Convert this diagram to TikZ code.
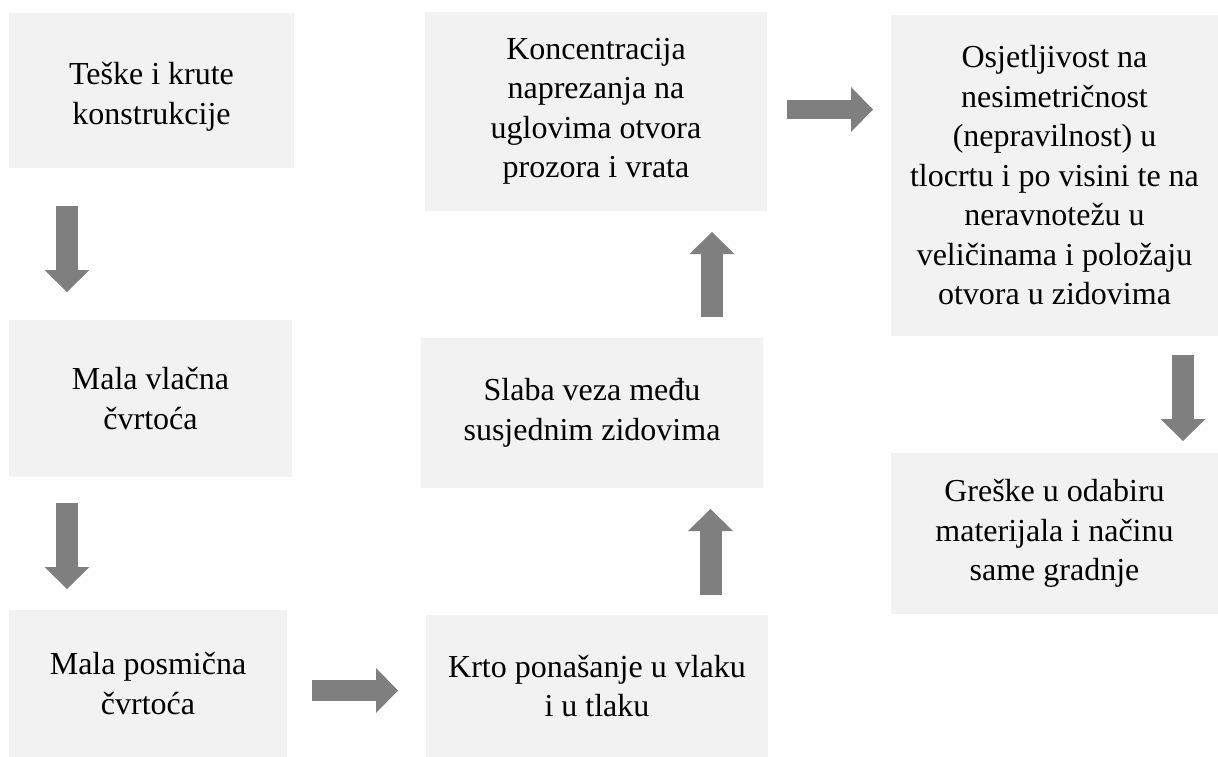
\documentclass[tikz,border=0pt]{standalone}
\usepackage{fontspec}
\setmainfont{Liberation Serif}
\usetikzlibrary{arrows.meta}
\definecolor{boxfill}{HTML}{F2F2F2}
\definecolor{arrowgray}{HTML}{7F7F7F}
\begin{document}
\begin{tikzpicture}[x=1pt,y=-1pt,
  box/.style={fill=boxfill, draw=none, inner sep=0pt, align=center,
    font=\fontsize{32pt}{39.5pt}\selectfont, text=black},
  txt/.style={inner sep=0pt, align=center,
    font=\fontsize{32pt}{39.5pt}\selectfont, text=black},
  blk/.style={draw=arrowgray, line width=22pt, line cap=butt,
    -{Triangle[width=45pt,length=22pt,line width=0pt,fill=arrowgray]}},
]
\useasboundingbox (0,0) rectangle (1218,757);
\node[box, minimum width=285pt, minimum height=155pt] (b1) at (151.5,90.5) {};
\node[txt] (b1t) at (151.5,97) {Teške i krute\\konstrukcije};
\node[box, minimum width=283pt, minimum height=157pt] (b2) at (150.5,398.5) {Mala vlačna\\čvrtoća};
\node[box, minimum width=278pt, minimum height=147pt] (b3) at (148,683.5) {Mala posmična\\čvrtoća};
\node[box, minimum width=342pt, minimum height=142pt] (b4) at (597,686) {Krto ponašanje u vlaku\\i u tlaku};
\node[box, minimum width=342pt, minimum height=150pt] (b5) at (592,413) {Slaba veza među\\susjednim zidovima};
\node[box, minimum width=342pt, minimum height=199pt] (b6) at (596,111.5) {Koncentracija\\naprezanja na\\uglovima otvora\\prozora i vrata};
\node[box, minimum width=327pt, minimum height=321pt] (b7) at (1054.5,175.5) {Osjetljivost na\\nesimetričnost\\(nepravilnost) u\\tlocrtu i po visini te na\\neravnotežu u\\veličinama i položaju\\otvora u zidovima};
\node[box, minimum width=327pt, minimum height=161pt] (b8) at (1054.5,533.5) {Greške u odabiru\\materijala i načinu\\same gradnje};

\coordinate (a1s) at (67,206);   \coordinate (a1e) at (67,292);
\coordinate (a2s) at (67,503);   \coordinate (a2e) at (67,589);
\coordinate (a3s) at (312,690.5); \coordinate (a3e) at (398,690.5);
\coordinate (a4s) at (710.5,595); \coordinate (a4e) at (710.5,509);
\coordinate (a5s) at (712,317);  \coordinate (a5e) at (712,232);
\coordinate (a6s) at (787,109.5); \coordinate (a6e) at (873,109.5);
\coordinate (a7s) at (1183,355); \coordinate (a7e) at (1183,441);

\draw[blk] (a1s) -- (a1e);
\draw[blk] (a2s) -- (a2e);
\draw[blk, line width=21pt] (a3s) -- (a3e);
\draw[blk] (a4s) -- (a4e);
\draw[blk] (a5s) -- (a5e);
\draw[blk, line width=19pt] (a6s) -- (a6e);
\draw[blk] (a7s) -- (a7e);
\end{tikzpicture}
\end{document}
